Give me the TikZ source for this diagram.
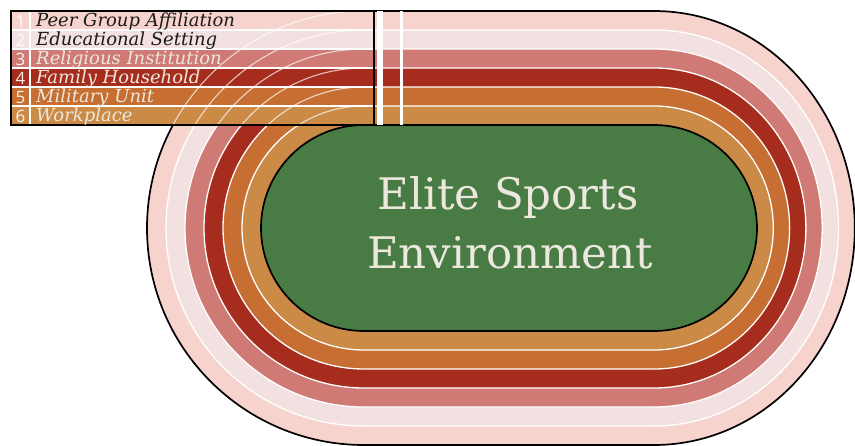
\documentclass[tikz,border=0pt]{standalone}
\usepackage{fontspec}
\setmainfont{DejaVu Serif}
\newfontfamily\numfont{Open Sans}
\begin{document}
\begin{tikzpicture}[x=1pt,y=-1pt,
  % closed boundary of the track, #1 lanes out from the infield
  oval/.style={insert path={(364,{125-19*#1}) -- (654,{125-19*#1})
     arc[start angle=-90,end angle=90,x radius={103+16.3*#1},y radius={103+19*#1}]
     -- (364,{331+19*#1})
     arc[start angle=90,end angle=270,radius={103+19*#1}] -- cycle}},
  laneline/.style={white,line width=1.3pt},
  edgeline/.style={black,line width=1.7pt},
  lbl/.style={anchor=base west,inner sep=0pt,font=\itshape\fontsize{18}{18}\selectfont},
  num/.style={anchor=base,inner sep=0pt,text=white,text opacity=0.9,font=\numfont\fontsize{17}{17}\selectfont},
  title/.style={anchor=base,inner sep=0pt,text=titletext,font=\fontsize{43.5}{43.5}\selectfont}]
\definecolor{laneA}{HTML}{F7D3CE}
\definecolor{laneB}{HTML}{F3E1E1}
\definecolor{laneC}{HTML}{CF7A74}
\definecolor{laneD}{HTML}{A62C1E}
\definecolor{laneE}{HTML}{C76F32}
\definecolor{laneF}{HTML}{CB8B47}
\definecolor{field}{HTML}{497B44}
\definecolor{titletext}{HTML}{ECE8DE}
\definecolor{darktext}{HTML}{1A1A1A}
\useasboundingbox (0,0) rectangle (855,445);

% track surface, outermost lane first
\fill[laneA, oval=6];
\fill[laneB, oval=5];
\fill[laneC, oval=4];
\fill[laneD, oval=3];
\fill[laneE, oval=2];
\fill[laneF, oval=1];
\fill[field, oval=0];
\foreach \k in {1,...,5} \draw[laneline, oval=\k];
\draw[edgeline, oval=6];
\draw[edgeline, oval=0];

% start line bars on the straight
\fill[white] (376.5,11) rectangle (382.5,125);
\fill[white] (399.5,11) rectangle (402.5,125);

% legend block over the top-left straight
\foreach \i/\c in {1/laneA,2/laneB,3/laneC,4/laneD,5/laneE,6/laneF}
  \fill[\c] (11,{11+19*(\i-1)}) rectangle (374,{11+19*\i});
\begin{scope}
  \clip (11,11) rectangle (374,125);
  \foreach \k in {1,...,6}
    \draw[white,line width=1.1pt,opacity=0.7] (364,228) ++(180:{103+19*\k})
      arc[start angle=180,end angle=270,radius={103+19*\k}];
\end{scope}
\foreach \i in {1,...,5}
  \draw[laneline,line width=1.6pt] (11,{11+19*\i}) -- (374,{11+19*\i});
\draw[white,line width=2pt] (30,11) -- (30,125);
\draw[black,line width=2pt] (11,11) rectangle (374,125);

\foreach \i in {1,...,6}
  \node[num] (n\i) at (20.5,{11+19*\i-3.0}) {\i};
\node[lbl,text=darktext] (l1) at (36,{11+19*1-4.0}) {Peer Group Affiliation};
\node[lbl,text=darktext] (l2) at (36,{11+19*2-4.0}) {Educational Setting};
\node[lbl,text=titletext] (l3) at (36,{11+19*3-4.0}) {Religious Institution};
\node[lbl,text=titletext] (l4) at (36,{11+19*4-4.0}) {Family Household};
\node[lbl,text=titletext] (l5) at (36,{11+19*5-4.0}) {Military Unit};
\node[lbl,text=titletext] (l6) at (36,{11+19*6-4.0}) {Workplace};

% infield title
\node[title] (t1) at (508,209) {Elite Sports};
\node[title] (t2) at (510,268) {Environment};
\end{tikzpicture}
\end{document}
